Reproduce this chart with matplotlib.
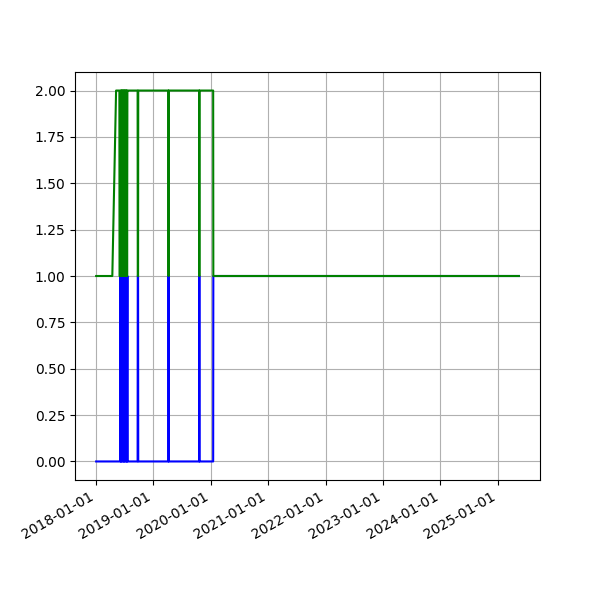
import matplotlib
matplotlib.use("Agg")
import matplotlib.pyplot as plt
import matplotlib.dates as mdates
import pandas as pd

# observation dates with the two state series (blue: 0/1, green: 1/2)
dates = [
    "2018-01-01", "2018-04-14", "2018-05-08", "2018-05-29", "2018-05-30",
    "2018-06-04", "2018-06-05", "2018-06-07", "2018-06-09", "2018-06-11",
    "2018-06-13", "2018-06-15", "2018-06-17", "2018-06-19", "2018-06-21",
    "2018-06-23", "2018-06-25", "2018-06-27", "2018-06-29", "2018-07-01",
    "2018-07-03", "2018-07-05", "2018-07-07", "2018-07-09", "2018-07-11",
    "2018-07-13", "2018-07-15", "2018-07-17", "2018-07-19", "2018-07-20",
    "2018-09-22", "2018-09-23", "2018-09-25", "2018-09-26",
    "2019-04-06", "2019-04-07", "2019-04-08",
    "2019-10-19", "2019-10-20", "2019-10-21",
    "2020-01-16", "2020-01-17", "2025-05-15",
]
blue = [
    0, 0, 0, 0, 0,
    0, 1, 0, 1, 0,
    1, 0, 1, 1, 0,
    1, 0, 1, 0, 1,
    0, 1, 1, 0, 1,
    0, 1, 0, 1, 0,
    0, 1, 1, 0,
    0, 1, 0,
    0, 1, 0,
    0, 1, 1,
]
green = [
    1, 1, 2, 2, 1,
    1, 2, 1, 2, 1,
    2, 1, 2, 1, 2,
    1, 2, 1, 2, 1,
    2, 1, 2, 1, 2,
    1, 2, 1, 2, 2,
    2, 1, 1, 2,
    2, 1, 2,
    2, 1, 2,
    2, 1, 1,
]

x = pd.to_datetime(dates)

fig, ax = plt.subplots(figsize=(6, 6), dpi=100)
ax.plot(x, blue, color="blue")
ax.plot(x, green, color="green")
ax.xaxis.set_major_locator(mdates.YearLocator())
ax.xaxis.set_major_formatter(mdates.DateFormatter("%Y-%m-%d"))
ax.grid(True)
fig.autofmt_xdate()

plt.savefig("out.png", dpi=100)
